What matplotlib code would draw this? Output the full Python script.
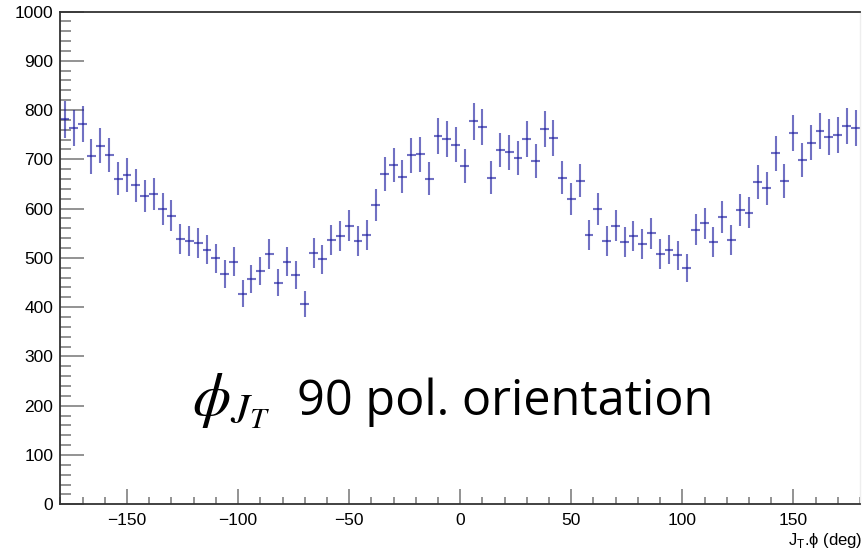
import numpy as np
import matplotlib
matplotlib.use('Agg')
import matplotlib.pyplot as plt
from matplotlib.ticker import MultipleLocator

# histogram of J_T phi, 90 bins of 4 deg
bin_lo = -180
bin_hi = 180
n_bins = 90
counts = [781, 763, 771, 706, 728, 709, 661, 668, 647, 626,
          630, 600, 586, 539, 535, 530, 517, 499, 468, 492,
          427, 458, 473, 508, 450, 492, 466, 406, 510, 497,
          537, 544, 565, 535, 546, 607, 670, 689, 665, 708,
          710, 661, 747, 741, 730, 687, 777, 766, 663, 719,
          714, 703, 741, 696, 761, 743, 663, 619, 657, 546,
          599, 535, 565, 533, 544, 529, 550, 508, 517, 505,
          479, 557, 570, 533, 583, 537, 597, 592, 654, 641,
          712, 656, 754, 699, 734, 758, 745, 749, 767, 763]
err_scale = 1.32  # weighted errors

yticks = [0, 100, 200, 300, 400, 500, 600, 700, 800, 900, 1000]
xticks = [-150, -100, -50, 0, 50, 100, 150]

edges = np.linspace(bin_lo, bin_hi, n_bins + 1)
centers = 0.5 * (edges[1:] + edges[:-1])
half_w = 0.5 * (edges[1] - edges[0])
counts = np.array(counts, dtype=float)
errs = err_scale * np.sqrt(counts)

W, H = 863, 551
fig = plt.figure(figsize=(W / 100, H / 100), dpi=100)
ax = fig.add_axes([60.4 / W, (H - 504.3) / H, 799.6 / W, 492.8 / H])

ax.errorbar(centers, counts, yerr=errs, xerr=half_w, fmt='none',
            ecolor=(0.1, 0.1, 0.62), alpha=0.62, elinewidth=1.5, capsize=0)

ax.set_xlim(bin_lo, bin_hi)
ax.set_ylim(0, 1000)
ax.set_xticks(xticks)
ax.set_yticks(yticks)
ax.set_xticklabels([str(t).replace('-', '\u2212') for t in xticks])
ax.xaxis.set_minor_locator(MultipleLocator(10))
ax.yaxis.set_minor_locator(MultipleLocator(20))

tick_font = 'Liberation Sans'
for lab in ax.get_xticklabels() + ax.get_yticklabels():
    lab.set_fontfamily(tick_font)
    lab.set_fontsize(12.5)

ax.tick_params(axis='y', which='major', direction='in', length=17.5, width=1.2, color='#808080', pad=5)
ax.tick_params(axis='y', which='minor', direction='in', length=8, width=1.2, color='#808080')
ax.tick_params(axis='x', which='major', direction='in', length=10.5, width=1.2, color='#808080', pad=6)
ax.tick_params(axis='x', which='minor', direction='in', length=5, width=1.2, color='#808080')

for s in ['left', 'bottom', 'top']:
    ax.spines[s].set_color('#333333')
    ax.spines[s].set_linewidth(1.3)
ax.spines['right'].set_color('#eeeeee')
ax.spines['right'].set_linewidth(1.0)

fig.text(862 / W, (H - 545) / H, r'J$_\mathregular{T}$.' + '\u03d5 (deg)', ha='right', va='baseline',
         fontsize=12, family=[tick_font, 'DejaVu Sans'])

# label in the middle of the plot
fig.text(192 / W, (H - 415) / H, r'$\phi_{J_T}$', ha='left', va='baseline',
         fontsize=44, math_fontfamily='stix')
fig.text(297 / W, (H - 415) / H, '90 pol. orientation', ha='left', va='baseline',
         fontsize=35, family='Open Sans')

fig.savefig('out.png', dpi=100)
